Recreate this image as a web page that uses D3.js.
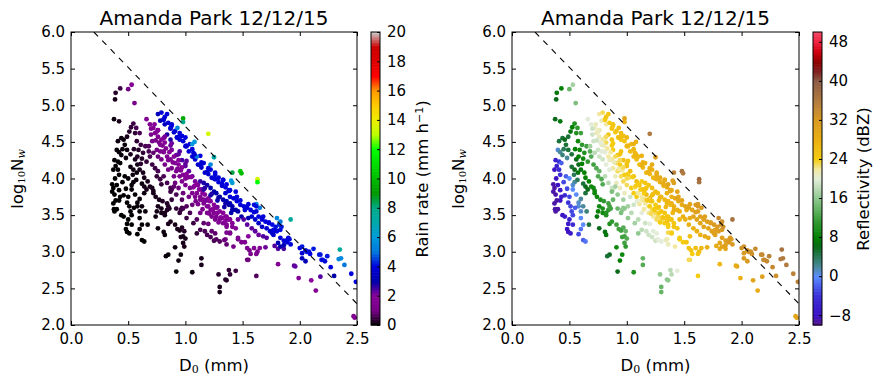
<!DOCTYPE html>
<html>
<head>
<meta charset="utf-8">
<title>Amanda Park 12/12/15</title>
<style>
  body { margin: 0; background: #fff; }
  text { font-family: "DejaVu Sans", sans-serif; fill: #000; }
</style>
</head>
<body>
<script src="https://cdn.jsdelivr.net/npm/d3@7"></script>
<script type="text/javascript">

// ---- data (one entry per drop-size spectrum) ----
// median drop diameter D0 (mm)
var d0 = [
  0.43,0.39,0.385,0.50,0.53,0.555,0.376,0.42,
  0.545,0.525,0.51,0.56,0.49,0.44,0.41,0.46,0.47,0.40,
  0.42,0.44,0.49,0.38,0.41,0.39,0.43,0.37,0.41,0.385,
  0.36,0.40,0.42,0.36,0.46,0.50,0.47,0.50,0.545,0.53,
  0.575,0.61,0.59,0.63,0.62,0.66,0.65,0.68,0.69,0.71,
  0.735,0.76,0.75,0.78,0.79,0.56,0.58,0.60,0.63,0.64,
  0.67,0.69,0.72,0.52,0.545,0.575,0.37,0.38,0.43,0.53,
  0.64,0.64,0.60,0.57,
  0.37,0.375,0.38,0.44,0.46,0.49,0.51,0.52,0.53,0.50,
  0.49,0.53,0.60,0.58,0.60,0.62,0.60,0.58,0.48,0.49,
  0.51,0.62,0.64,0.67,0.58,0.42,
  0.75,0.74,0.79,0.79,0.82,0.84,0.86,0.92,0.96,0.97,
  0.76,0.81,0.82,0.85,0.87,0.91,0.93,0.95,0.97,0.99,
  0.98,0.96,1.00,0.98,0.99,0.91,0.85,0.83,0.96,0.94,
  0.92,1.06,1.14,1.14,1.29,1.38,1.39,1.30,1.30,1.36,
  1.44,0.71,0.72,0.74,0.77,0.80,0.76,0.84,0.82,1.62,
  1.54,1.55,1.35,
  0.66,0.69,0.72,0.70,0.735,0.76,0.79,0.82,0.78,0.75,
  0.81,0.84,0.87,0.91,0.88,0.92,0.95,0.97,1.00,1.04,
  1.06,1.085,1.14,0.82,0.85,0.90,0.91,0.94,0.98,0.88,
  0.71,0.68,0.72,0.76,0.79,0.88,0.92,0.97,1.00,1.03,
  1.06,1.085,1.11,1.14,1.17,1.20,0.87,0.84,0.76,0.94,
  0.95,1.01,0.98,0.81,0.84,0.87,
  0.76,0.79,0.84,0.81,0.78,0.82,0.87,0.90,0.925,0.95,
  0.98,1.01,1.03,1.07,1.085,1.11,1.14,1.17,1.20,1.23,
  1.26,1.29,1.32,1.35,1.38,0.85,0.88,0.91,0.97,1.00,
  1.04,1.06,1.13,1.16,1.22,1.26,1.29,1.33,1.36,0.95,
  0.93,1.08,1.06,1.10,1.22,1.25,1.41,0.98,0.98,1.20,
  1.41,1.48,1.49,1.40,1.63,1.63,1.92,1.80,1.62,1.65,
  2.35,2.34,2.36,2.39,2.45,2.49,2.47,2.48,
  1.13,1.16,1.19,1.22,1.25,1.27,1.30,1.33,1.36,1.39,
  1.10,1.13,1.16,1.19,1.22,1.25,1.27,1.30,1.33,1.36,
  1.16,1.19,1.22,1.25,1.27,1.30,1.13,1.19,1.23,1.33,
  1.36,1.39,1.41,
  1.35,1.38,1.39,1.44,1.42,1.45,1.48,1.51,1.54,1.52,
  1.57,1.60,1.62,1.64,1.67,1.70,1.73,1.76,1.79,1.82,
  1.83,1.77,1.74,1.71,1.67,1.64,1.61,1.58,1.55,1.49,
  1.46,1.44,1.41,1.38,1.90,1.35,1.38,1.41,1.36,1.44,
  1.46,1.51,1.54,1.58,1.61,1.64,1.68,1.71,1.55,1.46,
  1.39,
  1.36,1.39,1.46,1.49,1.52,
  1.56,1.57,1.60,1.65,1.70,1.78,1.81,1.86,1.81,1.96,1.99,2.10,2.14,2.18,
  1.35,1.36,1.63,1.62,2.30,
  1.77,1.80,1.83,1.86,1.89,1.91,1.92,2.00,2.02,2.05,2.08,2.09,2.12,2.02,2.05,2.18,2.19,2.22,2.27,2.24,
  1.81,1.83,1.86,1.89,1.76,1.78,1.84,1.83,1.95,2.02,2.06,2.17,2.20,
  1.19,1.22,1.25,1.27,1.30,1.34,1.26,1.42,
  1.01,1.06,1.09,1.13,1.10,1.16,1.20,
  1.03,0.97,
  0.90,0.87,0.92,0.88,0.85,0.95,0.98,1.01,1.04,1.07,1.13,1.10,1.17,1.23,1.54,
  0.75,0.76,0.81,0.82,0.87,0.88,0.94,0.95,1.00,1.01,
  0.78,0.81,0.85,0.89,0.93,0.96,1.00,1.03,1.07,1.10,
  0.74,0.77,0.70,0.73,0.80,0.83,0.86,0.90,0.94,0.97,
  1.01,1.05,1.08,1.12,1.15,1.18,1.21,1.24,1.28,1.31,
  0.81,0.82,0.87,0.88,0.93,0.95,1.00,1.01,1.06,1.08,
  1.13,1.14,1.19,1.20,1.25,1.26,1.32,1.33,1.38,1.39,
  1.44,1.45,1.48,1.53,1.55,1.60,1.62,1.67,1.68,1.73,
  1.16,1.17,1.22,1.23,1.28,1.29,1.34,1.35,1.40,1.41,
  1.20,1.24,1.28,1.32,1.35,1.26,1.29,1.21,1.15,1.11,
  0.45,0.48,0.52,0.55,0.58,0.61,0.54,0.57,0.62,0.66,
  0.45,0.48,0.42,0.39,0.40,0.56,0.60,0.62,0.55,0.65
];

// log10 of the normalised intercept Nw
var logNw = [
  5.23,5.17,5.08,5.22,5.28,5.03,4.81,4.78,
  4.75,4.70,4.64,4.62,4.57,4.55,4.51,4.53,4.46,4.39,
  4.36,4.32,4.39,4.25,4.23,4.17,4.21,4.12,4.12,4.00,
  3.92,3.91,3.84,3.82,3.77,3.75,4.03,4.00,3.95,3.91,
  4.51,4.46,4.39,4.35,4.27,4.23,4.44,4.37,4.30,4.19,
  4.14,4.10,4.03,3.99,3.92,4.26,4.19,4.12,4.08,4.01,
  3.96,3.89,3.83,4.16,4.12,4.08,3.87,3.78,3.75,3.85,
  3.89,3.80,4.62,4.69,
  3.66,3.58,3.55,3.50,3.48,3.67,3.62,3.55,3.50,3.44,
  3.38,3.37,3.55,3.62,3.46,3.37,3.31,3.24,3.31,3.27,
  3.25,3.16,3.14,3.37,3.67,3.70,
  3.55,3.48,3.59,3.53,3.50,3.57,3.59,3.59,3.57,3.60,
  3.32,3.27,3.23,3.38,3.41,3.37,3.31,3.29,3.33,3.28,
  3.21,3.20,3.18,3.12,3.07,3.06,2.96,2.94,2.96,2.88,
  2.73,2.72,2.91,2.82,2.69,2.75,2.69,2.52,2.45,2.61,
  2.74,3.87,3.80,3.75,3.71,3.69,3.62,3.66,3.53,2.67,
  2.89,2.89,2.62,
  4.81,4.74,4.69,4.60,4.62,4.57,4.53,4.49,4.46,4.39,
  4.37,4.30,4.26,4.21,4.14,4.10,4.03,3.96,3.91,3.87,
  3.80,3.75,3.71,4.19,4.12,4.03,3.94,3.87,3.80,3.85,
  4.51,4.44,4.35,4.30,4.26,4.39,4.32,4.25,4.17,4.10,
  4.03,3.96,3.91,3.85,3.78,3.73,4.53,4.60,4.66,4.19,
  4.12,4.01,4.05,4.03,3.94,3.87,
  4.88,4.90,4.88,4.81,4.79,4.74,4.69,4.63,4.56,4.53,
  4.51,4.44,4.37,4.35,4.26,4.19,4.15,4.08,4.06,4.01,
  3.99,3.95,3.90,3.88,3.83,4.76,4.74,4.65,4.58,4.56,
  4.47,4.40,4.31,4.21,4.12,4.08,4.01,3.98,3.92,4.62,
  4.69,4.50,4.47,4.30,4.19,4.29,3.94,4.82,4.77,4.61,
  4.08,4.10,4.07,3.97,3.99,3.95,3.44,3.46,3.65,3.60,
  3.03,2.90,2.91,2.82,2.70,2.59,2.12,2.10,
  3.96,3.94,3.91,3.87,3.82,3.80,3.75,3.71,3.69,3.66,
  3.80,3.75,3.71,3.71,3.69,3.64,3.60,3.55,3.53,3.48,
  3.66,3.62,3.57,3.53,3.48,3.44,3.71,3.53,3.48,3.39,
  3.37,3.44,3.34,
  3.80,3.84,3.75,3.82,3.73,3.69,3.64,3.62,3.60,3.57,
  3.57,3.64,3.62,3.48,3.44,3.41,3.39,3.37,3.34,3.37,
  3.30,3.30,3.28,3.32,3.34,3.39,3.44,3.48,3.46,3.48,
  3.55,3.57,3.62,3.64,3.19,3.48,3.44,3.39,3.34,3.32,
  3.44,3.44,3.37,3.32,3.28,3.23,3.21,3.19,3.21,3.19,
  3.25,
  3.26,3.26,3.17,3.13,3.13,
  3.02,2.97,3.05,3.05,3.06,3.08,3.04,3.04,2.83,2.80,2.64,2.61,2.47,2.66,
  3.17,3.10,3.00,2.97,2.67,
  3.23,3.28,3.19,3.15,3.13,3.17,3.10,3.05,3.07,3.02,3.00,2.97,3.04,2.91,2.87,2.96,2.89,2.87,2.79,2.94,
  3.12,3.07,3.09,3.16,3.25,3.29,3.34,3.41,2.81,2.98,3.00,2.96,2.89,
  3.23,3.20,3.15,3.17,3.14,3.16,3.25,3.07,
  3.62,3.64,3.69,3.53,3.44,3.39,3.38,
  3.75,3.71,
  3.89,3.82,3.78,3.71,3.62,3.53,3.59,3.46,3.53,3.39,3.30,3.25,3.28,3.28,3.05,
  4.64,4.66,4.55,4.57,4.45,4.48,4.33,4.37,4.20,4.24,
  4.37,4.36,4.25,4.22,4.13,4.11,4.00,4.02,3.88,3.92,
  4.52,4.49,4.68,4.74,4.45,4.41,4.36,4.30,4.25,4.15,
  4.06,4.02,3.90,3.85,3.80,3.70,3.69,3.57,3.61,3.47,
  4.80,4.84,4.68,4.72,4.56,4.58,4.44,4.45,4.30,4.33,
  4.18,4.22,4.09,4.14,4.00,4.05,3.93,3.98,3.83,3.84,
  3.73,3.75,3.70,3.61,3.65,3.54,3.55,3.46,3.48,3.40,
  3.85,3.87,3.77,3.79,3.70,3.74,3.61,3.66,3.53,3.57,
  3.62,3.58,3.53,3.46,3.42,3.44,3.40,3.52,3.58,3.65,
  4.40,4.28,4.33,4.40,4.30,4.20,4.05,3.98,3.93,3.85,
  3.95,3.86,4.05,3.70,3.58,3.78,3.72,3.62,3.60,3.55
];

// rain rate (mm/h), colours the left panel
var rainRate = [
  0.5,0.3,0.2,1.0,1.6,1.1,0.1,0.2,
  0.5,0.4,0.3,0.4,0.2,0.1,0.1,0.1,0.1,0.05,
  0.06,0.07,0.1,0.03,0.04,0.03,0.05,0.02,0.03,0.02,
  0.01,0.02,0.02,0.01,0.03,0.03,0.05,0.06,0.08,0.07,
  0.4,0.5,0.3,0.4,0.3,0.4,0.6,0.6,0.6,0.5,
  0.5,0.6,0.4,0.5,0.4,0.2,0.2,0.2,0.2,0.2,
  0.2,0.2,0.2,0.1,0.1,0.1,0.01,0.01,0.02,0.06,
  0.15,0.1,0.6,0.6,
  0.01,0.01,0.01,0.01,0.01,0.03,0.03,0.03,0.03,0.02,
  0.01,0.02,0.05,0.05,0.04,0.04,0.03,0.02,0.01,0.01,
  0.01,0.02,0.03,0.06,0.06,0.01,
  0.15,0.1,0.2,0.2,0.2,0.3,0.3,0.4,0.5,0.5,
  0.1,0.1,0.1,0.2,0.2,0.2,0.2,0.2,0.3,0.3,
  0.2,0.2,0.2,0.2,0.2,0.1,0.07,0.06,0.1,0.1,
  0.06,0.1,0.2,0.2,0.3,0.4,0.4,0.2,0.2,0.3,
  0.5,0.2,0.2,0.2,0.2,0.3,0.2,0.3,0.2,0.7,
  0.9,0.9,0.3,
  1.5,1.5,1.7,1.2,1.5,1.6,1.8,1.9,1.4,1.0,
  1.4,1.4,1.5,1.7,1.2,1.3,1.3,1.3,1.3,1.4,
  1.3,1.3,1.5,1.0,1.0,1.0,0.9,0.9,0.9,0.6,
  1.0,0.7,0.8,0.9,1.0,2.1,2.2,2.5,2.3,2.3,
  2.2,2.1,2.1,2.1,2.0,2.0,2.8,2.8,2.0,1.8,
  1.7,1.7,1.6,0.6,0.6,0.6,
  3.3,3.8,3.9,3.6,3.1,3.4,3.7,3.8,3.6,3.8,
  3.9,3.9,3.8,3.9,3.8,3.6,3.7,3.6,3.8,3.8,
  3.9,3.9,3.9,4.0,4.0,3.8,3.9,3.9,4.0,4.0,
  4.0,3.9,4.0,3.9,3.9,4.0,3.9,4.0,4.0,4.0,
  5.5,6,6,5,5.5,7,6.3,9.5,8,13.5,
  8.5,10.5,10,6,13.5,12,7.5,5.5,5.5,5,
  7.5,5.5,5.5,5,4,4,1.5,1.5,
  2.6,2.8,2.9,3.0,3.0,3.0,3.0,3.1,3.2,3.4,
  1.5,1.6,1.6,1.8,1.9,1.9,1.9,1.9,2.0,2.0,
  1.4,1.5,1.5,1.5,1.4,1.5,1.4,1.2,1.3,1.5,
  1.5,2.0,1.7,
  3.7,3.9,3.8,4.0,3.9,3.9,3.9,3.9,4.0,3.8,
  4.0,4.1,4.1,4.0,4.0,4.0,4.1,4.1,4.1,4.4,
  4.1,3.9,3.7,3.8,3.6,3.6,3.8,3.8,3.3,3.0,
  3.1,3.0,3.1,3.0,4.0,1.9,1.9,1.9,1.4,1.8,
  2.2,2.4,2.3,2.3,2.3,2.2,2.4,2.4,2.0,1.4,
  1.3,
  1.2,1.3,1.4,1.4,1.5,
  1.3,1.2,1.6,1.8,2.2,2.4,2.4,2.5,1.7,2.3,1.7,2.0,1.6,2.4,
  1.0,0.8,1.5,1.4,3.0,
  3.7,4.0,3.9,3.8,3.9,4.1,3.9,4.0,4.2,4.1,4.1,4.0,4.2,3.3,3.2,4.2,4.1,4.1,4.0,4.2,
  3.2,3.1,3.3,4.0,3.7,4.0,4.2,5.0,2.3,3.8,4.1,4.2,4.1,
  0.6,0.6,0.6,0.7,0.7,0.9,0.8,1.0,
  0.7,0.9,1.1,1.0,0.7,0.8,0.9,
  1.0,0.7,
  0.8,0.5,0.6,0.4,0.3,0.4,0.6,0.5,0.6,0.5,0.6,0.4,0.6,0.8,1.3,
  1.7,1.8,2.0,2.1,2.2,2.2,2.3,2.4,2.3,2.3,
  1.3,1.4,1.5,1.5,1.6,1.6,1.7,1.7,1.8,1.9,
  1.3,1.4,1.5,1.9,1.6,1.7,1.8,1.9,2.0,1.9,
  2.0,2.0,2.0,1.9,2.0,2.1,2.0,2.0,2.1,2.0,
  3.8,3.9,3.8,3.9,3.8,3.9,3.8,3.7,3.7,3.8,
  3.8,3.8,3.8,3.9,3.9,3.9,3.9,4.0,3.9,3.9,
  3.9,3.9,3.9,3.9,3.9,3.8,3.8,3.9,3.9,3.9,
  2.7,2.7,2.8,2.8,2.9,2.9,2.9,2.9,3.0,3.0,
  1.7,1.8,1.8,1.8,1.8,1.4,1.5,1.5,1.4,1.4,
  0.1,0.1,0.2,0.3,0.3,0.3,0.1,0.1,0.1,0.2,
  0.03,0.03,0.03,0.01,0.01,0.05,0.08,0.08,0.04,0.1
];

// reflectivity (dBZ), colours the right panel
var reflectivity = [
  8,7,6,14,17,15,6,7,
  10,8,7,10,5,5,5,6,5,1,
  2,3,5,-6,-4,-6,-2,-8,-5,-8,
  -9,-8,-7,-9,-5,-3,-2,0,2,1,
  9,11,9,10,9,11,12,13,13,12,
  13,14,13,13,13,6,6,7,8,8,
  8,9,9,5,6,7,-9,-9,-7,0,
  6,5,12,11,
  -9,-9,-9,-8,-7,-4,-3,-3,-3,-6,
  -7,-5,1,1,0,0,-1,-3,-8,-8,
  -7,-2,-1,5,1,-8,
  8,7,10,9,10,11,12,14,16,16,
  6,7,7,10,11,12,12,12,13,14,
  12,12,13,12,11,9,6,5,9,8,
  6,10,14,13,16,18,18,14,14,16,
  20,9,9,9,10,11,9,12,10,24,
  23,23,16,
  20,20,21,19,21,21,22,23,21,19,
  21,22,22,23,22,23,23,23,23,24,
  24,24,25,20,20,21,21,21,21,19,
  19,17,18,19,19,24,25,26,26,26,
  26,26,26,27,27,27,25,25,22,24,
  24,24,24,18,18,19,
  22,23,25,23,21,22,24,24,24,25,
  25,26,26,27,26,26,27,27,27,27,
  28,28,28,29,29,24,25,25,26,27,
  27,27,28,28,28,29,29,30,30,26,
  26,28,28,27,29,31,31,30,28,36,
  35,37,36,31,38,37,37,34,32,32,
  37,36,36,36,35,35,30,30,
  24,25,25,26,26,26,27,27,27,28,
  22,22,23,23,24,24,24,25,25,25,
  22,22,23,23,23,23,22,22,22,24,
  24,25,25,
  28,29,28,30,29,29,29,30,30,29,
  30,32,32,31,31,31,32,32,32,33,
  32,31,31,30,30,30,30,30,29,28,
  28,28,28,27,32,25,25,25,24,25,
  27,28,28,28,28,28,29,29,26,24,
  24,
  23,24,24,24,25,
  25,24,26,27,28,29,29,30,27,30,28,30,29,31,
  22,21,26,25,33,
  31,32,31,31,32,32,32,33,33,33,33,33,34,32,32,34,34,34,34,35,
  30,30,31,32,31,31,33,33,29,32,33,34,34,
  19,19,19,20,20,21,20,22,
  17,19,20,20,18,19,20,
  19,17,
  17,15,16,14,12,15,16,16,18,17,18,16,19,20,25,
  21,21,22,23,24,24,25,25,25,25,
  20,20,21,21,22,22,23,23,23,24,
  19,20,19,21,21,22,22,23,23,23,
  24,24,24,24,24,25,25,25,25,25,
  24,25,25,25,26,26,27,27,27,27,
  28,28,28,28,28,29,29,29,29,29,
  30,30,30,30,30,31,31,31,31,31,
  25,25,26,26,26,27,27,27,27,28,
  24,24,24,25,25,23,24,23,22,22,
  4,2,5,8,8,8,4,4,5,6,
  -3,-3,-4,-9,-9,0,2,2,-2,3
];

// dashed reference line (end points)
var refLineD0 = [0.2, 2.5];
var refLineNw = [6.0, 2.29];

// ticks
var xTicks = [0, 0.5, 1.0, 1.5, 2.0, 2.5];
var yTicks = [2.0, 2.5, 3.0, 3.5, 4.0, 4.5, 5.0, 5.5, 6.0];
var rainTicks = [0, 2, 4, 6, 8, 10, 12, 14, 16, 18, 20];
var dbzTicks = [-8, 0, 8, 16, 24, 32, 40, 48];

var title = "Amanda Park 12/12/15";

// ---- colour maps (style) ----
// nipy_spectral over [0, 20] mm/h
var spectralColors = ["#000000","#770088","#880099","#0000aa","#0000dd","#0077dd","#0099dd",
  "#00aaaa","#00aa88","#009900","#00bb00","#00dd00","#00ff00","#bbff00","#eeee00",
  "#ffcc00","#ff9900","#ff0000","#dd0000","#cc0000","#cccccc"];
var rainColor = d3.scaleLinear()
    .domain(spectralColors.map(function(c, i) { return i; }))
    .range(spectralColors)
    .clamp(true);

var dbzStops = [-10, -8, -4, 0, 2, 4, 6, 8, 12, 16, 20, 22, 24, 28, 32, 36, 40, 42, 44, 46, 48, 50];
var dbzColors = ["#5a1a8a","#3c12c4","#3a30d8","#5a8cff","#4a8a9a","#2a7a5a","#0a6a1a","#008000",
  "#40a040","#90c890","#e2ecd8","#f2e8a0","#f5cc10","#ebb012","#d99a22","#b07a40","#8c5c44",
  "#802020","#900000","#d00010","#f02040","#f04a66"];
var dbzColor = d3.scaleLinear().domain(dbzStops).range(dbzColors).clamp(true);

var fmt1 = d3.format(".1f");
function minusFmt(d) { return d < 0 ? "\u2212" + Math.abs(d) : String(d); }

var svg = d3.select("body")
    .append("svg")
    .attr("width", 886)
    .attr("height", 386);

var n = Math.min(d0.length, logNw.length, rainRate.length, reflectivity.length);
var points = d3.range(n).map(function(i) {
  return { d0: d0[i], nw: logNw[i], r: rainRate[i], z: reflectivity[i] };
});

function drawPanel(opt) {
  var x = d3.scaleLinear().domain([0, 2.5]).range([opt.left, opt.right]);
  var y = d3.scaleLinear().domain([2, 6]).range([325, 32]);

  var clipId = "clip" + opt.id;
  svg.append("clipPath").attr("id", clipId)
    .append("rect")
    .attr("x", opt.left).attr("y", 32)
    .attr("width", opt.right - opt.left).attr("height", 293);

  var plot = svg.append("g").attr("clip-path", "url(#" + clipId + ")");

  plot.selectAll("circle")
    .data(points)
    .enter().append("circle")
    .attr("cx", function(d) { return x(d.d0); })
    .attr("cy", function(d) { return y(d.nw); })
    .attr("r", 2.4)
    .style("fill", function(d) { return opt.color(d[opt.key]); });

  var line = d3.line()
    .x(function(d) { return x(d[0]); })
    .y(function(d) { return y(d[1]); });

  plot.append("path")
    .datum(refLineD0.map(function(v, i) { return [v, refLineNw[i]]; }))
    .attr("d", line)
    .style("fill", "none")
    .style("stroke", "black")
    .style("stroke-width", "1.1px")
    .style("stroke-dasharray", "6 6");

  // axes, ticks pointing inward
  var gx = svg.append("g")
    .attr("transform", "translate(0,325)")
    .call(d3.axisBottom(x).tickValues(xTicks).tickFormat(fmt1).tickSize(-4).tickPadding(8));
  var gy = svg.append("g")
    .attr("transform", "translate(" + opt.left + ",0)")
    .call(d3.axisLeft(y).tickValues(yTicks).tickFormat(fmt1).tickSize(-4).tickPadding(6));
  var gt = svg.append("g")
    .attr("transform", "translate(0,32)")
    .call(d3.axisTop(x).tickValues(xTicks).tickFormat("").tickSize(-4));
  var gr = svg.append("g")
    .attr("transform", "translate(" + opt.right + ",0)")
    .call(d3.axisRight(y).tickValues(yTicks).tickFormat("").tickSize(-4));

  [gx, gy, gt, gr].forEach(function(g) {
    g.select(".domain").remove();
    g.selectAll("line").style("stroke", "black");
    g.selectAll("text").style("font-size", "15px").style("font-family", "DejaVu Sans");
  });

  svg.append("rect")
    .attr("x", opt.left).attr("y", 32)
    .attr("width", opt.right - opt.left).attr("height", 293)
    .style("fill", "none").style("stroke", "black").style("stroke-width", "1px");

  var cx = (opt.left + opt.right) / 2;
  svg.append("text")
    .attr("x", cx).attr("y", 25)
    .attr("text-anchor", "middle")
    .style("font-size", "20px")
    .text(title);

  var xl = svg.append("text")
    .attr("x", cx).attr("y", 371)
    .attr("text-anchor", "middle")
    .style("font-size", "16.5px");
  xl.append("tspan").text("D");
  xl.append("tspan").attr("baseline-shift", "-22%").style("font-size", "11px")
    .style("font-family", "DejaVu Serif").text("0");
  xl.append("tspan").text(" (mm)");

  var yl = svg.append("text")
    .attr("transform", "translate(" + (opt.left - 48) + ",179) rotate(-90)")
    .attr("text-anchor", "middle")
    .style("font-size", "16.5px");
  yl.append("tspan").text("log");
  yl.append("tspan").attr("baseline-shift", "-22%").style("font-size", "10px")
    .style("font-family", "DejaVu Serif").text("10");
  yl.append("tspan").attr("baseline-shift", "0%").text("N");
  yl.append("tspan").attr("baseline-shift", "-22%").style("font-size", "11px")
    .style("font-family", "DejaVu Serif").style("font-style", "italic").text("w");

  // colour bar
  var cb = opt.cbar;
  var cy = d3.scaleLinear().domain(cb.domain).range([325, 32]);
  var steps = 200;
  var g = svg.append("g");
  g.selectAll("rect")
    .data(d3.range(steps))
    .enter().append("rect")
    .attr("x", cb.x)
    .attr("width", cb.w)
    .attr("y", function(i) { return cy(cb.domain[0] + (i + 1) * (cb.domain[1] - cb.domain[0]) / steps); })
    .attr("height", 293 / steps + 0.6)
    .style("fill", function(i) { return opt.color(cb.domain[0] + (i + 0.5) * (cb.domain[1] - cb.domain[0]) / steps); });
  svg.append("rect")
    .attr("x", cb.x).attr("y", 32).attr("width", cb.w).attr("height", 293)
    .style("fill", "none").style("stroke", "black").style("stroke-width", "1px");

  var ga = svg.append("g")
    .attr("transform", "translate(" + (cb.x + cb.w) + ",0)")
    .call(d3.axisRight(cy).tickValues(cb.ticks).tickFormat(minusFmt).tickSize(-3).tickPadding(7));
  ga.select(".domain").remove();
  ga.selectAll("line").style("stroke", "black");
  ga.selectAll("text").style("font-size", "15px").style("font-family", "DejaVu Sans");

  var cl = svg.append("text")
    .attr("transform", "translate(" + cb.labelX + ",179) rotate(-90)")
    .attr("text-anchor", "middle")
    .style("font-size", "16.5px");
  cb.label(cl);
}

drawPanel({
  id: "L", left: 71, right: 357, key: "r", color: rainColor,
  cbar: {
    x: 371, w: 9, domain: [0, 20], ticks: rainTicks, labelX: 428,
    label: function(t) {
      t.append("tspan").text("Rain rate (mm h");
      t.append("tspan").attr("baseline-shift", "45%").style("font-size", "11px").text("\u22121");
      t.append("tspan").attr("baseline-shift", "0%").text(")");
    }
  }
});

drawPanel({
  id: "R", left: 512, right: 799, key: "z", color: dbzColor,
  cbar: {
    x: 813, w: 9, domain: [-10, 50], ticks: dbzTicks, labelX: 869,
    label: function(t) { t.text("Reflectivity (dBZ)"); }
  }
});

</script>
</body>
</html>
